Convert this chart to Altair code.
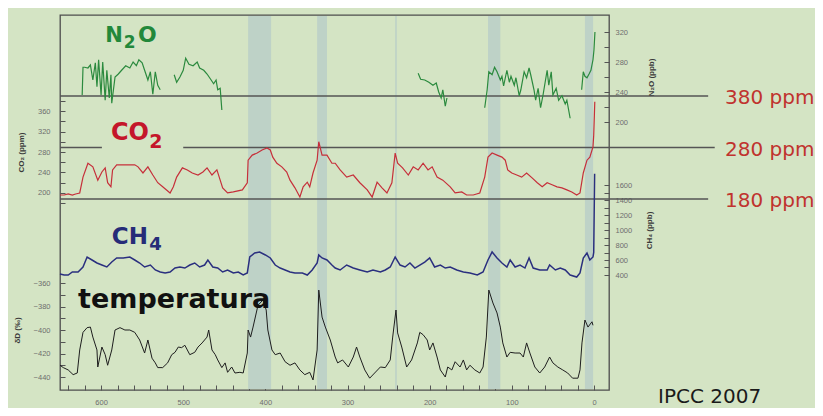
import altair as alt
import pandas as pd

# ---------------- data (age in thousand years before present) ----------------
n2o_age = [623, 622, 620, 616, 613, 610, 607, 605, 603, 600, 598, 595, 593, 590, 588, 587, 583, 579, 575, 570,
           565, 561, 557, 554, 550, 547, 543, 540, 537, 534, 531, 528,
           511, 508, 504, 500, 497, 493, 488, 483, 480, 475, 471, 466, 463, 460, 458, 455, 453,
           214, 211, 206, 201, 196, 192, 189, 186, 184, 181, 179,
           133, 130, 128, 124, 121, 118, 114, 112, 110, 106, 103, 101, 97, 95, 91, 89, 85, 82, 79, 77,
           73, 71, 68, 65, 62, 57, 55, 52, 50, 46, 43, 39, 35, 33, 29,
           15, 13, 11, 8.5, 6, 3.7, 1.2, 0, -1.2]
n2o_ppb = [236, 273, 273, 272, 276, 256, 279, 247, 283, 236, 280, 229, 269, 232, 263, 225, 260, 264, 269, 275,
           272, 280, 275, 283, 279, 269, 256, 267, 237, 267, 249, 243,
           263, 253, 260, 269, 285, 277, 275, 280, 272, 269, 264, 256, 251, 256, 243, 245, 216,
           265, 257, 256, 253, 249, 252, 240, 232, 243, 221, 232,
           219, 243, 267, 263, 273, 267, 256, 261, 248, 269, 253, 261, 249, 259, 235, 243, 267, 259, 272, 263,
           243, 229, 245, 219, 236, 269, 249, 267, 236, 245, 229, 235, 224, 229, 205,
           243, 267, 261, 259, 264, 269, 283, 296, 320]
n2o_seg = [1] * 32 + [2] * 17 + [3] * 11 + [4] * 35 + [5] * 9

co2_age = [650, 645, 640, 635, 631, 626, 622, 616, 610, 604,
           599, 595, 592, 588, 586, 581, 571, 559, 555, 549,
           543, 537, 531, 525, 516, 512, 508, 501, 495, 489,
           482, 476, 471, 465, 459, 455, 452, 446, 439, 428,
           422, 421, 416, 410, 404, 398, 394, 391, 386, 380,
           374, 370, 364, 358, 354, 349, 346, 342, 337, 335,
           331, 325, 319, 315, 309, 301, 293, 285, 276, 270,
           264, 258, 252, 246, 242, 239, 233, 226, 220, 214,
           208, 202, 197, 191, 184, 175, 169, 161, 155, 147,
           139, 133, 129, 124, 118, 112, 108, 105, 100, 94,
           88, 82, 75, 69, 63, 57, 51, 45, 39, 33,
           27, 21, 17, 13, 8.5, 5, 1.2, 0.3, -0.5, -1]
co2_ppm = [196, 196, 198, 196, 198, 200, 231, 258, 251, 225,
           241, 249, 220, 212, 245, 255, 255, 255, 251, 239,
           251, 235, 220, 212, 200, 212, 231, 249, 245, 239,
           235, 241, 249, 235, 245, 225, 210, 200, 202, 206,
           220, 264, 274, 278, 284, 288, 284, 270, 258, 251,
           241, 225, 210, 192, 212, 221, 212, 239, 264, 300,
           274, 274, 258, 258, 245, 231, 235, 220, 206, 192,
           221, 210, 200, 220, 278, 258, 249, 235, 251, 245,
           258, 245, 251, 231, 225, 212, 200, 202, 196, 196,
           200, 231, 270, 278, 274, 270, 264, 245, 239, 235,
           231, 239, 229, 220, 212, 220, 216, 212, 210, 206,
           202, 196, 200, 239, 264, 270, 290, 313, 352, 378]

ch4_age = [650, 645, 640, 635, 628, 622, 617, 611, 605, 599,
           593, 587, 581, 573, 565, 559, 553, 547, 540, 534,
           528, 522, 516, 510, 504, 498, 492, 486, 480, 474,
           470, 464, 458, 452, 446, 439, 433, 427, 422, 419,
           413, 407, 400, 394, 388, 382, 376, 370, 364, 355,
           349, 343, 337, 335, 331, 325, 319, 315, 309, 301,
           293, 285, 276, 269, 260, 254, 248, 242, 236, 230,
           224, 218, 212, 206, 200, 194, 187, 181, 175, 167,
           159, 151, 142, 135, 129, 124, 118, 112, 106, 102,
           96, 90, 84, 79, 74, 66, 57, 54, 47, 41,
           35, 29, 21, 17, 13, 8.5, 5, 1.2, 0.3, -0.8]
ch4_ppb = [413, 400, 400, 440, 440, 507, 640, 600, 560, 533,
           507, 573, 627, 627, 640, 600, 560, 507, 533, 467,
           440, 427, 440, 493, 507, 493, 533, 560, 507, 533,
           600, 507, 493, 440, 467, 427, 440, 400, 427, 640,
           693, 707, 667, 627, 533, 493, 467, 440, 427, 427,
           400, 467, 560, 667, 627, 600, 533, 493, 467, 533,
           493, 467, 440, 467, 440, 467, 507, 640, 533, 507,
           560, 493, 533, 573, 627, 507, 533, 493, 507, 467,
           440, 427, 400, 440, 600, 707, 627, 560, 507, 600,
           507, 533, 493, 627, 493, 467, 467, 533, 467, 493,
           467, 400, 373, 427, 627, 693, 600, 640, 700, 1750]

dd_age = [650, 646, 640, 634, 629, 626, 622, 617, 613, 610,
          605, 604, 599, 595, 592, 587, 583, 577, 571, 565,
          559, 553, 547, 543, 538, 534, 531, 525, 519, 514,
          510, 506, 502, 498, 492, 486, 482, 477, 471, 469,
          465, 461, 458, 453, 449, 446, 441, 437, 431, 427,
          422, 421, 418, 415, 409, 403, 399, 397, 392, 388,
          382, 376, 370, 364, 358, 352, 346, 342, 337, 335,
          331, 327, 321, 315, 312, 306, 299, 293, 289, 285,
          279, 273, 267, 260, 254, 248, 245, 241, 239, 234,
          228, 222, 215, 212, 208, 203, 200, 196, 191, 187,
          181, 178, 173, 169, 163, 159, 155, 151, 145, 139,
          135, 131, 128, 123, 118, 114, 111, 106, 102, 96,
          90, 86, 82, 78, 72, 66, 60, 54, 50, 44,
          38, 32, 26, 19.5, 17, 14.6, 11, 7.3, 2.4, 1.2]
dd_permil = [-430, -432, -434, -438, -436.6, -417, -402, -398, -397.5, -406,
             -417, -431.5, -414.5, -421, -430, -417, -400, -398, -400, -400,
             -402, -408.5, -419.6, -408.5, -424, -428, -432, -432, -428, -421,
             -419, -414.5, -415, -413, -421, -419, -414.5, -411, -406, -400,
             -417, -421, -425.5, -432, -428, -436, -431.5, -436.6, -436, -436.6,
             -419.6, -400, -406, -397.5, -379, -374.5, -383, -400, -417, -421,
             -419.6, -427, -430, -428, -434, -438, -436, -442.5, -417, -366,
             -389, -397.5, -408.5, -423, -428, -425.5, -431.5, -423, -414.5, -423,
             -434, -441, -436.6, -431.5, -432, -425.5, -406, -383, -402.5, -414.5,
             -431.5, -425.5, -411, -402, -404, -408.5, -417, -411, -423, -434,
             -440, -431.5, -434, -427, -431.5, -425.5, -434, -430, -434, -436.6,
             -431.5, -406, -366, -377, -385.5, -397.5, -411, -423, -419, -419.6,
             -419.6, -423, -411, -419.6, -431.5, -436.6, -431.5, -423, -428, -431.5,
             -434, -436.6, -441, -441, -434, -411, -391.5, -397.5, -393, -396]

# interglacial shading (kyr BP)
band_start = [421, 337, 242, 129, 11]
band_end = [393, 325, 240, 114, 1]

# reference lines (ppm) and their horizontal extent (kyr BP)
ref_ppm = [380, 280, 280, 180]
ref_from = [650, 650, 500, 650]
ref_to = [-139, 599, -147, -139]
ref_label_text = ["380 ppm", "280 ppm", "180 ppm"]
ref_label_ppm = [380, 280, 180]

x_ticks = list(range(0, 641, 20))
co2_ticks = list(range(180, 381, 20))
n2o_ticks = list(range(200, 321, 20))
ch4_ticks = list(range(400, 1601, 100))
dd_ticks = list(range(-440, -359, 10))

# ---------------- chart ----------------
W, H = 549, 375
FONT = "DejaVu Sans"

x_scale = alt.Scale(domain=[-18.3, 650], reverse=True, nice=False, zero=False)
x_axis = alt.Axis(orient="bottom", values=x_ticks,
                  labelExpr="datum.value % 100 === 0 ? datum.label : ''",
                  offset=-5, tickSize=5, domain=False, grid=False, labelPadding=8, title=None)

sc_n2o = alt.Scale(domain=[200, 320], range=[107, 17], nice=False, zero=False)
sc_co2 = alt.Scale(domain=[180, 380], range=[188.2, 85.8], nice=False, zero=False)
sc_ref = alt.Scale(domain=[180, 380], range=[184, 81], nice=False, zero=False)
sc_ch4 = alt.Scale(domain=[400, 1600], range=[260, 170], nice=False, zero=False)
sc_dd = alt.Scale(domain=[-440, -360], range=[362, 268], nice=False, zero=False)


def yaxis(orient, values, modulo, title, pad, tpad):
    return alt.Axis(orient=orient, values=values, format="d",
                    labelExpr=f"datum.value % {modulo} === 0 ? datum.label : ''",
                    offset=-5, tickSize=5, domain=False, grid=False,
                    labelPadding=pad, title=title, titlePadding=tpad, titleAngle=270)


def X(field="age"):
    return alt.X(f"{field}:Q", scale=x_scale, axis=x_axis, title=None)


n2o_df = pd.DataFrame({"age": n2o_age, "v": n2o_ppb, "seg": n2o_seg})
co2_df = pd.DataFrame({"age": co2_age, "v": co2_ppm})
ch4_df = pd.DataFrame({"age": ch4_age, "v": ch4_ppb})
dd_df = pd.DataFrame({"age": dd_age, "v": dd_permil})
band_df = pd.DataFrame({"start": band_start, "end": band_end})
ref_df = pd.DataFrame({"start": ref_from, "end": ref_to, "v": ref_ppm})
ref_lbl = pd.DataFrame({"t": ref_label_text, "age": [-159.5] * 3, "v": ref_label_ppm})

bands = alt.Chart(band_df).mark_rect(color="#bed2c7").encode(
    x=X("start"), x2="end:Q", y=alt.value(1), y2=alt.value(H - 1))

refs = alt.Chart(ref_df).mark_rule(color="#555555", strokeWidth=1.5).encode(
    x=X("start"), x2="end:Q", y=alt.Y("v:Q", scale=sc_ref, axis=None))

n2o_line = alt.Chart(n2o_df).mark_line(color="#2b8a3e", strokeWidth=1.2).encode(
    x=X(), y=alt.Y("v:Q", scale=sc_n2o, axis=yaxis("right", n2o_ticks, 40, "N₂O (ppb)", 6, 28)),
    detail="seg:N")

co2_line = alt.Chart(co2_df).mark_line(color="#c62f3a", strokeWidth=1.2).encode(
    x=X(), y=alt.Y("v:Q", scale=sc_co2, axis=yaxis("left", co2_ticks, 40, "CO₂ (ppm)", 10, 12)))

ch4_line = alt.Chart(ch4_df).mark_line(color="#2a2f7f", strokeWidth=1.5).encode(
    x=X(), y=alt.Y("v:Q", scale=sc_ch4, axis=yaxis("right", ch4_ticks, 200, "CH₄ (ppb)", 6, 22)))

dd_line = alt.Chart(dd_df).mark_line(color="#1e1e1e", strokeWidth=1.0).encode(
    x=X(), y=alt.Y("v:Q", scale=sc_dd, axis=yaxis("left", dd_ticks, 20, "δD (‰)", 10, 12)))


def labels(rows, scale, color, weight="bold", baseline="alphabetic", dy=0):
    df = pd.DataFrame(rows, columns=["t", "age", "v", "fs"])
    return alt.Chart(df).mark_text(align="left", baseline=baseline, font=FONT,
                                   fontWeight=weight, color=color, dy=dy).encode(
        x=X(), y=alt.Y("v:Q", scale=scale, axis=None), text="t:N",
        size=alt.Size("fs:Q", scale=None, legend=None))


n2o_txt = labels([("N", 595, 307.3, 21), ("2", 572.5, 298.7, 17), ("O", 555, 307.3, 22)], sc_n2o, "#22883a")
co2_txt = labels([("CO", 588, 303.4, 24), ("2", 541.5, 287.8, 19)], sc_co2, "#c4162a")
ch4_txt = labels([("CH", 587, 813, 23), ("4", 541.5, 733, 18)], sc_ch4, "#262c78")
dd_txt = labels([("temperatura", 628, -381, 27)], sc_dd, "#111111")
ipcc_txt = labels([("IPCC 2007", -78, -462.1, 20)], sc_dd, "#1a1a1a", weight="normal")
ref_txt = alt.Chart(ref_lbl).mark_text(align="left", baseline="middle", font=FONT, fontSize=20,
                                       color="#c0332e", dy=2).encode(
    x=X(), y=alt.Y("v:Q", scale=sc_ref, axis=None), text="t:N")

chart = alt.layer(
    bands, refs, n2o_line, co2_line, ch4_line, dd_line,
    n2o_txt, co2_txt, ch4_txt, dd_txt, ipcc_txt, ref_txt
).resolve_scale(y="independent").properties(
    width=W, height=H,
    padding={"left": 52, "top": 7, "right": 206, "bottom": 18},
    autosize=alt.AutoSizeParams(type="none"),
    background="#d4e4c4",
).configure_axis(
    labelFont="Liberation Sans", labelFontSize=7.5, labelColor="#6e6e6e",
    titleFont="Liberation Sans", titleFontSize=8, titleFontWeight="bold", titleColor="#3a3a3a",
    tickColor="#555555", tickWidth=1,
).configure_view(stroke="#4d4d4d", strokeWidth=1.3)

chart.save("out.html", embed_options={"renderer": "svg", "actions": False})
